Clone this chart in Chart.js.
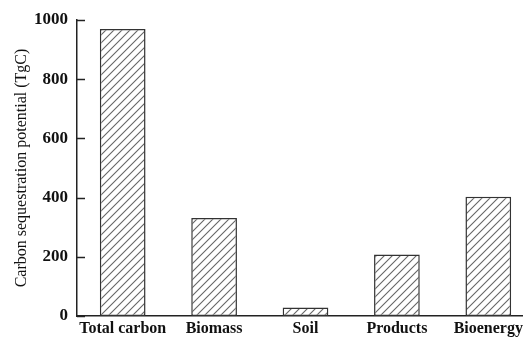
<!DOCTYPE html>
<html>
<head>
<meta charset="utf-8">
<script src="https://cdn.jsdelivr.net/npm/chart.js@4"></script>
<style>
  html, body { margin: 0; padding: 0; background: #fff; overflow: hidden; }
  #wrap { width: 540px; height: 337px; }
</style>
</head>
<body>
<div id="wrap"><canvas id="seqChart"></canvas></div>
<script>
// Data
const categories = ['Total carbon', 'Biomass', 'Soil', 'Products', 'Bioenergy'];
const potential = [970, 331, 29, 208, 403];
const yTicks = [0, 200, 400, 600, 800, 1000];

// Hatch pattern "/" for the bars
function makeHatch() {
    const c = document.createElement('canvas');
    const s = 8;
    c.width = s; c.height = s;
    const g = c.getContext('2d');
    g.fillStyle = '#fff';
    g.fillRect(0, 0, s, s);
    g.strokeStyle = '#666';
    g.lineWidth = 1.1;
    g.beginPath();
    g.moveTo(0, s); g.lineTo(s, 0);
    g.moveTo(-1, 1); g.lineTo(1, -1);
    g.moveTo(s - 1, s + 1); g.lineTo(s + 1, s - 1);
    g.stroke();
    return g.createPattern(c, 'repeat');
}

// ticks drawn inside the plot area
const innerTicks = {
    id: 'innerTicks',
    afterDraw(chart) {
        const y = chart.scales.y;
        const ctx = chart.ctx;
        ctx.save();
        ctx.strokeStyle = '#222';
        ctx.lineWidth = 1.5;
        yTicks.forEach(v => {
            const py = Math.round(y.getPixelForValue(v)) + 0.5;
            ctx.beginPath();
            ctx.moveTo(y.right, py);
            ctx.lineTo(y.right + 8, py);
            ctx.stroke();
        });
        ctx.restore();
    }
};

const serif = "'Liberation Serif', 'DejaVu Serif', serif";

const ctx = document.getElementById('seqChart').getContext('2d');
const seqChart = new Chart(ctx, {
    type: 'bar',
    data: {
        labels: categories,
        datasets: [{
            data: potential,
            backgroundColor: makeHatch(),
            borderColor: '#333',
            borderWidth: 1.5,
            borderSkipped: false,
            barPercentage: 0.5,
            categoryPercentage: 1
        }]
    },
    plugins: [innerTicks],
    options: {
        responsive: true,
        maintainAspectRatio: false,
        animation: false,
        layout: { padding: { top: 20, right: 6, left: 12, bottom: 0 } },
        plugins: {
            legend: { display: false },
            tooltip: { enabled: false }
        },
        scales: {
            x: {
                grid: { display: false, drawTicks: false },
                border: { color: '#222', width: 1.5 },
                ticks: {
                    color: '#111',
                    padding: 3,
                    maxRotation: 0,
                    font: { family: serif, size: 16, weight: 'bold' }
                },
                afterFit(scale) { scale.height = 21; }
            },
            y: {
                min: 0,
                max: 1000,
                grid: { display: false, drawTicks: false },
                border: { color: '#222', width: 1.5 },
                ticks: {
                    stepSize: 200,
                    color: '#111',
                    padding: 9,
                    font: { family: serif, size: 17, weight: 'bold' },
                    callback: v => String(v)
                },
                title: {
                    display: true,
                    text: 'Carbon sequestration potential (TgC)',
                    color: '#111',
                    padding: { top: 0, bottom: 2 },
                    font: { family: serif, size: 16 }
                },
                afterFit(scale) { scale.width = 65; }
            }
        }
    }
});
</script>
</body>
</html>
